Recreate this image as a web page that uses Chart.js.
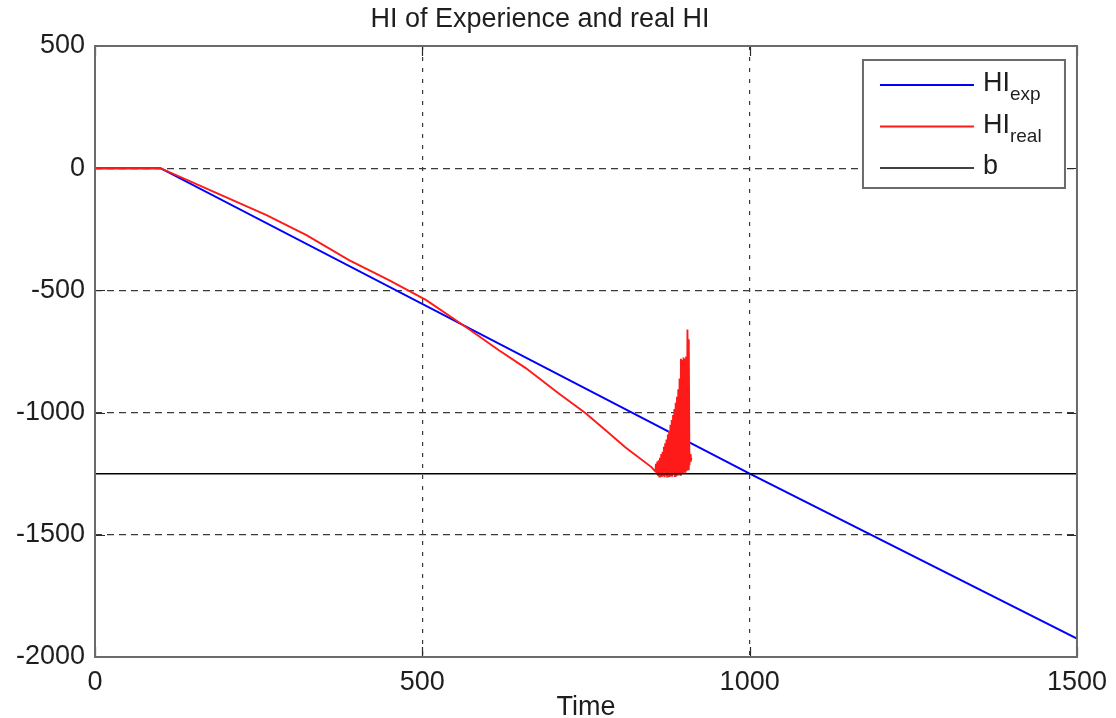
<!DOCTYPE html>
<html>
<head>
<meta charset="utf-8">
<script src="https://cdn.jsdelivr.net/npm/chart.js@4.4.1/dist/chart.umd.min.js"></script>
<style>
  html, body { margin: 0; padding: 0; background: #ffffff; }
  canvas { display: block; }
</style>
</head>
<body>
<canvas id="hiChart" width="1116" height="718"></canvas>
<script>
// Axis ticks
const xTicks = [0, 500, 1000, 1500];
const yTicks = [-2000, -1500, -1000, -500, 0, 500];

// Experience-based health indicator
const expTime = [0, 100, 1000, 1500];
const expHI = [0, 0, -1250, -1925];

// Measured health indicator
const realTime = [
  0, 100, 186, 262, 323, 388, 449, 506, 567, 617, 658, 708, 749, 780, 810, 850, 855,
  856, 857, 858, 859, 860, 861, 862, 863, 864, 865, 866, 867, 868, 869, 870,
  871, 872, 873, 874, 875, 876, 877, 878, 879, 880, 881, 882, 883, 884, 885,
  886, 887, 888, 889, 890, 891, 892, 893, 894, 895, 896, 897, 898, 899, 900,
  901, 902, 903, 904, 905, 906, 907, 908, 909, 910, 911
];
const realHI = [
  0, 0, -102, -192, -274, -376, -458, -540, -651, -745, -818, -921, -1002, -1072, -1142, -1223, -1238,
  -1240, -1210, -1252, -1200, -1258, -1195, -1262, -1185, -1255, -1170, -1263, -1160, -1256, -1140, -1264,
  -1125, -1258, -1110, -1262, -1090, -1255, -1075, -1263, -1050, -1257, -1030, -1262, -1010, -1254, -985,
  -1260, -960, -1252, -935, -1258, -905, -1248, -860, -1255, -780, -1245, -785, -1250, -775, -1242,
  -780, -1246, -770, -1238, -660, -1232, -700, -1215, -1170, -1200, -1185
];

// Failure threshold
const bTime = [0, 1500];
const bHI = [-1250, -1250];

const seriesNames = ['HI', 'HI', 'b'];
const seriesSubs = ['exp', 'real', ''];

const FONT = '"Liberation Sans", Arial, Helvetica, sans-serif';
const TEXT = '#1e1e1e';

function toPoints(xs, ys) {
  return xs.map((x, i) => ({ x: x, y: ys[i] }));
}

// Inward tick marks (under the data) and the axes box (over it)
const framePlugin = {
  id: 'frame',
  beforeDatasetsDraw(chart) {
    const { ctx, chartArea: a, scales } = chart;
    ctx.save();
    ctx.strokeStyle = '#2a2a2a';
    ctx.lineWidth = 1.2;
    ctx.setLineDash([]);
    const tl = 10;
    xTicks.forEach(v => {
      const px = Math.round(scales.x.getPixelForValue(v)) + 0.5;
      ctx.beginPath();
      ctx.moveTo(px, a.bottom); ctx.lineTo(px, a.bottom - tl);
      ctx.moveTo(px, a.top); ctx.lineTo(px, a.top + tl);
      ctx.stroke();
    });
    yTicks.forEach(v => {
      const py = Math.round(scales.y.getPixelForValue(v)) + 0.5;
      ctx.beginPath();
      ctx.moveTo(a.left, py); ctx.lineTo(a.left + tl, py);
      ctx.moveTo(a.right, py); ctx.lineTo(a.right - tl, py);
      ctx.stroke();
    });
    ctx.restore();
  },
  afterDatasetsDraw(chart) {
    const { ctx, chartArea: a } = chart;
    ctx.save();
    ctx.strokeStyle = '#6a6a6a';
    ctx.lineWidth = 2;
    ctx.strokeRect(a.left, a.top, a.right - a.left, a.bottom - a.top);
    ctx.restore();
  }
};

// Boxed legend with subscripted labels
const legendPlugin = {
  id: 'boxLegend',
  afterDraw(chart) {
    const { ctx, chartArea: a } = chart;
    const w = 202, h = 128;
    const x0 = a.right - 12 - w;
    const y0 = a.top + 14;
    ctx.save();
    ctx.fillStyle = '#ffffff';
    ctx.fillRect(x0, y0, w, h);
    ctx.strokeStyle = '#6a6a6a';
    ctx.lineWidth = 2;
    ctx.strokeRect(x0, y0, w, h);
    chart.data.datasets.forEach((ds, i) => {
      const cy = y0 + 25 + i * 41.5;
      ctx.strokeStyle = ds.borderColor;
      ctx.lineWidth = ds.borderWidth;
      ctx.beginPath();
      ctx.moveTo(x0 + 17, cy);
      ctx.lineTo(x0 + 111, cy);
      ctx.stroke();
      ctx.fillStyle = TEXT;
      ctx.textBaseline = 'alphabetic';
      ctx.textAlign = 'left';
      ctx.font = '27px ' + FONT;
      const main = seriesNames[i];
      ctx.fillText(main, x0 + 120, cy + 6);
      const mw = ctx.measureText(main).width;
      if (seriesSubs[i]) {
        ctx.font = '19px ' + FONT;
        ctx.fillText(seriesSubs[i], x0 + 120 + mw, cy + 15);
      }
    });
    ctx.restore();
  }
};

const ctx = document.getElementById('hiChart').getContext('2d');
new Chart(ctx, {
  type: 'line',
  data: {
    datasets: [
      {
        label: 'HI exp',
        data: toPoints(expTime, expHI),
        borderColor: '#0000ff',
        borderWidth: 2,
        pointRadius: 0,
        tension: 0,
        order: 2
      },
      {
        label: 'HI real',
        data: toPoints(realTime, realHI),
        borderColor: '#ff1a1a',
        borderWidth: 1.9,
        pointRadius: 0,
        tension: 0,
        order: 1
      },
      {
        label: 'b',
        data: toPoints(bTime, bHI),
        borderColor: '#000000',
        borderWidth: 1.6,
        pointRadius: 0,
        tension: 0,
        order: 0
      }
    ]
  },
  options: {
    responsive: false,
    animation: false,
    devicePixelRatio: 1,
    layout: { padding: { left: 0, right: 36, top: 0, bottom: 0 } },
    plugins: {
      legend: { display: false },
      tooltip: { enabled: false },
      title: {
        display: true,
        text: 'HI of Experience and real HI',
        color: TEXT,
        font: { family: FONT, size: 27, weight: 'normal', lineHeight: 1.2 },
        padding: { top: 3, bottom: 10.6 }
      }
    },
    scales: {
      x: {
        type: 'linear',
        min: xTicks[0],
        max: xTicks[xTicks.length - 1],
        afterFit(s) { s.height = 61; },
        afterBuildTicks(s) { s.ticks = xTicks.map(v => ({ value: v })); },
        ticks: {
          color: TEXT,
          padding: 9,
          maxRotation: 0,
          font: { family: FONT, size: 27 },
          callback: v => String(v)
        },
        grid: {
          drawTicks: false,
          lineWidth: 1.2,
          color: c => (c.tick && (c.tick.value === xTicks[0] || c.tick.value === xTicks[xTicks.length - 1])) ? 'rgba(0,0,0,0)' : '#3a3a3a'
        },
        border: { display: false, dash: [4, 7] },
        title: {
          display: true,
          text: 'Time',
          color: TEXT,
          font: { family: FONT, size: 27, lineHeight: 0.8 },
          padding: { top: 0, bottom: 0 }
        }
      },
      y: {
        type: 'linear',
        min: yTicks[0],
        max: yTicks[yTicks.length - 1],
        afterFit(s) { s.width = 95; },
        afterBuildTicks(s) { s.ticks = yTicks.map(v => ({ value: v })); },
        ticks: {
          color: TEXT,
          padding: 10,
          font: { family: FONT, size: 27 },
          callback: v => String(v)
        },
        grid: {
          drawTicks: false,
          lineWidth: 1.2,
          color: c => (c.tick && (c.tick.value === yTicks[0] || c.tick.value === yTicks[yTicks.length - 1])) ? 'rgba(0,0,0,0)' : '#3a3a3a'
        },
        border: { display: false, dash: [7, 5] }
      }
    }
  },
  plugins: [framePlugin, legendPlugin]
});
</script>
</body>
</html>
